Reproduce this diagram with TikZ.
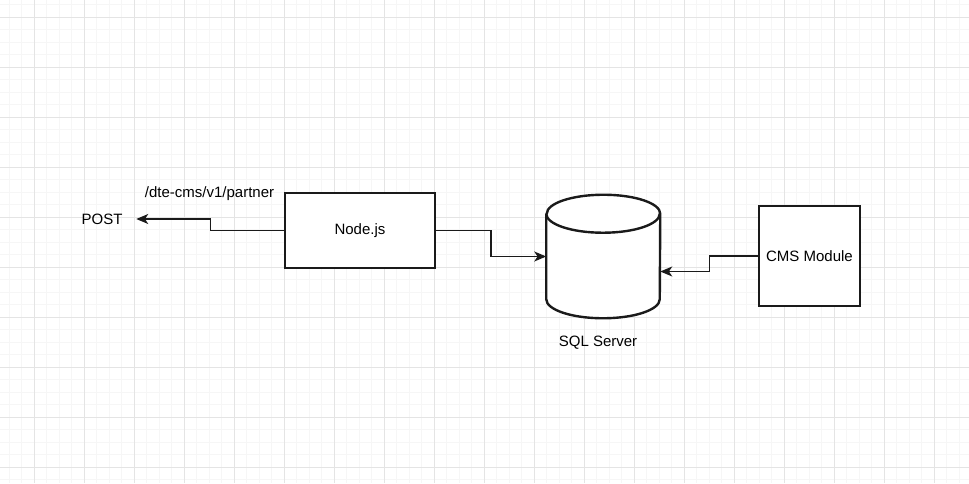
\documentclass[tikz,border=0pt]{standalone}
\usepackage{fontspec}
\setmainfont{Liberation Sans}
\usepackage{tikz}
\usetikzlibrary{positioning,calc,arrows.meta}
\definecolor{gridminor}{HTML}{F6F6F6}
\definecolor{gridmajor}{HTML}{E4E4E4}
\definecolor{ink}{HTML}{1A1A1A}
\tikzset{
	box/.style={draw=ink, line width=1pt, fill=white, inner sep=0pt},
	lbl/.style={inner sep=0pt, font=\fontsize{11.25}{13.5}\selectfont},
	conn/.style={draw=ink, line width=1.1pt, -{Stealth[length=9pt, width=7.5pt, inset=2.5pt]}}
}

\begin{document}
\begin{tikzpicture}[x=0.75pt, y=0.75pt]
	\useasboundingbox (0,0) rectangle (969,483);
	\fill[white] (0,0) rectangle (969,483);
	% grid
	\foreach \i in {0,...,78}
		\draw[gridminor, line width=0.7pt] ({-3.5+12.5*\i},0) -- ({-3.5+12.5*\i},483);
	\foreach \j in {0,...,38}
		\draw[gridminor, line width=0.7pt] (0,{3.5+12.5*\j}) -- (969,{3.5+12.5*\j});
	\foreach \i in {0,...,19}
		\draw[gridmajor, line width=0.7pt] ({34+50*\i},0) -- ({34+50*\i},483);
	\foreach \j in {0,...,9}
		\draw[gridmajor, line width=0.7pt] (0,{16+50*\j}) -- (969,{16+50*\j});
	% nodes
	\node[box, lbl, minimum width=112.5pt, minimum height=56.25pt] (njs) at (360,252.5) {Node.js};
	\node[lbl, minimum width=51pt] (post) at (102,264) {POST};
	\node[lbl] (route) at (209.5,289) {/dte-cms/v1/partner};
	\node[box, lbl, minimum width=75.75pt, minimum height=75pt] (cms) at (809.5,227) {CMS Module};
	\node[inner sep=0pt, minimum width=85.1pt, minimum height=92.25pt] (sql) at (603.25,226.5) {};
	\node[lbl] (sqllbl) at (598,140) {SQL Server};
	% cylinder
	\draw[draw=ink, line width=1.8pt, fill=white]
		($(sql.north west)+(0,-19)$) -- ($(sql.south west)+(0,19)$)
		arc[start angle=180, end angle=360, x radius=42.56pt, y radius=14.25pt]
		-- ($(sql.north east)+(0,-19)$)
		arc[start angle=0, end angle=180, x radius=42.56pt, y radius=14.25pt];
	\draw[draw=ink, line width=1.8pt]
		($(sql.north west)+(0,-19)$)
		arc[start angle=180, end angle=360, x radius=42.56pt, y radius=14.25pt];
	% connectors
	\draw[conn] (njs.west) -| ($(njs.west)!.5!(post.east)$) |- (post.east);
	\draw[conn] (njs.east) -| ($(njs.east)!.5!(sql.west)$) |- (sql.west);
	\draw[conn] (cms.west) -| ($(cms.west)!.5!($(sql.east)+(0,-15)$)$) |- ($(sql.east)+(0,-15)$);
\end{tikzpicture}
\end{document}
